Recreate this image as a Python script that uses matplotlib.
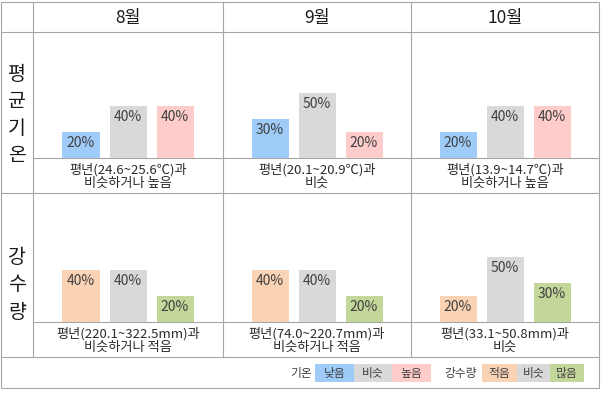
import numpy as np
import matplotlib
matplotlib.use("Agg")
import matplotlib.pyplot as plt
from matplotlib.patches import Rectangle

plt.rcParams["font.family"] = ["Noto Sans CJK KR", "DejaVu Sans"]

# ── data ────────────────────────────────────────────────────────────────────
months = ["8월", "9월", "10월"]
row_titles = ["평\n균\n기\n온", "강\n수\n량"]

temp_probs = [[20, 40, 40], [30, 50, 20], [20, 40, 40]]
rain_probs = [[40, 40, 20], [40, 40, 20], [20, 50, 30]]

temp_notes = ["평년(24.6~25.6℃)과\n비슷하거나 높음",
              "평년(20.1~20.9℃)과\n비슷",
              "평년(13.9~14.7℃)과\n비슷하거나 높음"]
rain_notes = ["평년(220.1~322.5mm)과\n비슷하거나 적음",
              "평년(74.0~220.7mm)과\n비슷하거나 적음",
              "평년(33.1~50.8mm)과\n비슷"]

temp_legend = ["낮음", "비슷", "높음"]
rain_legend = ["적음", "비슷", "많음"]

temp_colors = ["#9ECBF8", "#D9D9D9", "#FFCCCC"]
rain_colors = ["#FAD2B4", "#D9D9D9", "#C4D79B"]

# ── layout (pixels) ─────────────────────────────────────────────────────────
W, H = 602, 393
col_x = [1, 33, 223, 411, 599]
top, head_bot, bottom = 1.5, 32, 388
rows = [(32, 158, 193), (193, 322, 357)]   # (chart top, baseline, row bottom)
title_y = [115, 285]
PX_PER_PCT = 1.3
PITCH, BAR_W = 47, 37
LINE = "#A6A6A6"
TXT = "#2B2B2B"

fig = plt.figure(figsize=(W / 100, H / 100), dpi=100)
bg = fig.add_axes([0, 0, 1, 1])
bg.set_xlim(0, W)
bg.set_ylim(H, 0)
bg.axis("off")

lw = 0.8
# outer border + grid
bg.hlines([top, head_bot, rows[0][2], rows[1][2], bottom], col_x[0], col_x[-1],
          color=LINE, lw=lw)
bg.hlines([rows[0][1], rows[1][1]], col_x[1], col_x[-1], color=LINE, lw=lw)
bg.vlines([col_x[0], col_x[-1]], top, bottom, color=LINE, lw=lw)
bg.vlines(col_x[1:4], top, rows[1][2], color=LINE, lw=lw)

# headers
for i, m in enumerate(months):
    cx = (col_x[i + 1] + col_x[i + 2]) / 2
    bg.text(cx, (top + head_bot) / 2 + 1, m, ha="center", va="center",
            fontsize=12.5, color="#1A1A1A")

# row titles
for ty, title in zip(title_y, row_titles):
    bg.text(17, ty, title, ha="center", va="center",
            fontsize=14, color="#1A1A1A", linespacing=1.38)

# bars
for (yt, yb, yr), probs, notes, colors in zip(
        rows, [temp_probs, rain_probs], [temp_notes, rain_notes],
        [temp_colors, rain_colors]):
    for i in range(3):
        x0, x1 = col_x[i + 1], col_x[i + 2]
        cx = (x0 + x1) / 2
        ax = fig.add_axes([x0 / W, 1 - yb / H, (x1 - x0) / W, (yb - yt) / H])
        ax.set_xlim(-(cx - x0) / PITCH, (x1 - cx) / PITCH)
        ax.set_ylim(0, (yb - yt) / PX_PER_PCT)
        ax.axis("off")
        xs = np.arange(3) - 1
        ax.bar(xs, probs[i], width=BAR_W / PITCH, color=colors)
        for x, v in zip(xs, probs[i]):
            ax.annotate(f"{v}%", xy=(x, v), xytext=(0, -3),
                        textcoords="offset points", ha="center", va="top",
                        fontsize=10, color="#404040")
        bg.text(cx, (yb + yr) / 2 + 1, notes[i], ha="center", va="center",
                fontsize=9.5, color=TXT, linespacing=1.12)

# legend row
ly = (rows[1][2] + bottom) / 2 + 0.5
by0, bh = 364, 18


def legend_group(label, lx, boxes, labels, colors):
    bg.text(lx, ly, label, ha="center", va="center", fontsize=8.5,
            color="#404040")
    for (a, b), lab, c in zip(boxes, labels, colors):
        bg.add_patch(Rectangle((a, by0), b - a, bh, color=c, lw=0))
        bg.text((a + b) / 2, ly, lab, ha="center", va="center",
                fontsize=8.5, color="#404040")


legend_group("기온", 301.5, [(315, 354), (354, 392), (392, 431)],
             temp_legend, temp_colors)
legend_group("강수량", 461, [(482, 517), (517, 550), (550, 584)],
             rain_legend, rain_colors)

fig.savefig("out.png", dpi=100)
